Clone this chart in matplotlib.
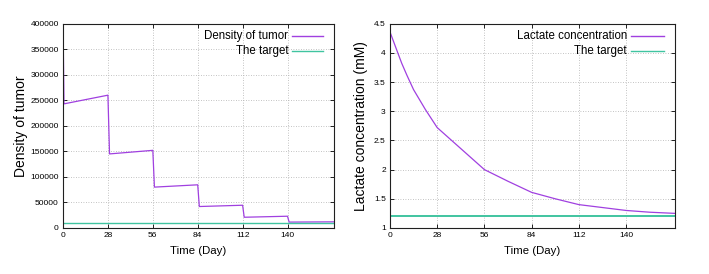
import matplotlib
matplotlib.use("Agg")
import matplotlib.pyplot as plt
from matplotlib.lines import Line2D

# tumor density (day, value) - drops happen right after each 28-day dose
tumor_days = [0, 0.6, 28, 29, 56, 57, 84, 85, 112, 113, 140, 141, 169]
tumor_density = [400000, 243000, 260000, 145000, 152000, 80000, 84500,
                 42000, 44500, 21000, 23000, 11500, 12000]
tumor_target = 10000

# lactate concentration (mM)
lact_days = [0, 4, 7, 10, 14, 21, 28, 42, 56, 70, 84, 98, 112, 126, 140, 154, 169]
lact_conc = [4.36, 4.05, 3.82, 3.62, 3.37, 3.03, 2.72, 2.36, 2.0, 1.80,
             1.61, 1.50, 1.40, 1.35, 1.30, 1.27, 1.25]
lact_target = 1.2

day_ticks = [0, 28, 56, 84, 112, 140]
xmax = 169

purple = '#a040e0'
green = '#40c4a0'
plt.rcParams['font.family'] = ['Liberation Sans', 'DejaVu Sans']

fig = plt.figure(figsize=(7.09, 2.74), dpi=100, facecolor='white')
ax1 = fig.add_axes([0.0889, 0.168, 0.3822, 0.7456])
ax2 = fig.add_axes([0.550, 0.168, 0.402, 0.7456])


def style(ax):
    ax.set_xlim(0, xmax)
    ax.set_xticks(day_ticks)
    ax.tick_params(direction='in', length=3, width=0.6, labelsize=6,
                   top=True, right=True, pad=3)
    ax.grid(True, color='#b0b0b0', linestyle=(0, (1, 2)), linewidth=0.6)
    for s in ax.spines.values():
        s.set_linewidth(0.8)
        s.set_color('#202020')
    ax.set_xlabel('Time (Day)', fontsize=8.2, labelpad=5)


def key(ax, y, label, color):
    # gnuplot-style key: right-aligned text followed by a sample line
    ax.text(0.832, y, label, transform=ax.transAxes, ha='right', va='center',
            fontsize=8.3)
    ax.add_line(Line2D([0.845, 0.96], [y, y], transform=ax.transAxes,
                       color=color, linewidth=1.0))


# left panel
ax1.plot(tumor_days, tumor_density, color=purple, linewidth=0.9)
ax1.axhline(tumor_target, color=green, linewidth=1.0)
ax1.set_ylim(0, 400000)
ax1.set_yticks(range(0, 400001, 50000))
style(ax1)
ax1.set_ylabel('Density of tumor', fontsize=10, labelpad=2)
key(ax1, 0.942, 'Density of tumor', purple)
key(ax1, 0.868, 'The target', green)

# right panel
ax2.plot(lact_days, lact_conc, color=purple, linewidth=0.9)
ax2.axhline(lact_target, color=green, linewidth=1.4)
ax2.set_ylim(1, 4.5)
ax2.set_yticks([1, 1.5, 2, 2.5, 3, 3.5, 4, 4.5])
ax2.set_yticklabels(['1', '1.5', '2', '2.5', '3', '3.5', '4', '4.5'])
style(ax2)
ax2.set_ylabel('Lactate concentration (mM)', fontsize=10, labelpad=4)
key(ax2, 0.942, 'Lactate concentration', purple)
key(ax2, 0.868, 'The target', green)

fig.savefig('out.png', dpi=100, facecolor='white')
